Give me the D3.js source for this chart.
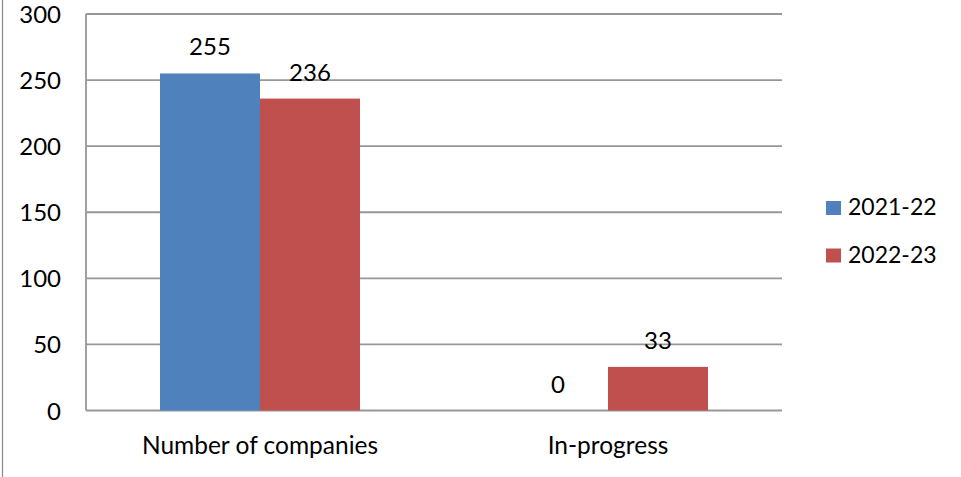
<!DOCTYPE html>
<html>
<head>
<meta charset="utf-8">
<script src="https://cdn.jsdelivr.net/npm/d3@7"></script>
<style>
  body { margin: 0; background: #fff; }
  text { font-family: Lato, "Open Sans", sans-serif; fill: #000; }
</style>
</head>
<body>
<svg width="961" height="477"></svg>
<script>
var categories = ["Number of companies", "In-progress"];
var seriesNames = ["2021-22", "2022-23"];
var values2021 = [255, 0];
var values2022 = [236, 33];
var yTicks = [0, 50, 100, 150, 200, 250, 300];
var colors = ["#4F81BD", "#C0504D"];

var rows = categories.map(function(c, i) {
  return { cat: c, vals: [values2021[i], values2022[i]] };
});

var svg = d3.select("svg");
var plotLeft = 86, plotRight = 782, plotTop = 14, plotBottom = 410.5;

// left frame edge
svg.append("line")
  .attr("x1", 2.5).attr("x2", 2.5).attr("y1", 0).attr("y2", 477)
  .attr("stroke", "#8c8c8c").attr("stroke-width", 1.2);

var y = d3.scaleLinear().domain([0, 300]).range([plotBottom, plotTop]);
var x0 = d3.scaleBand().domain(categories).range([plotLeft, plotRight]).paddingInner(0).paddingOuter(0);
var x1 = d3.scaleBand().domain([0, 1]).range([0, x0.bandwidth()]).paddingInner(0).paddingOuter(0.74);

// gridlines
svg.selectAll(".grid")
  .data(yTicks)
  .enter().append("line")
    .attr("x1", plotLeft).attr("x2", plotRight)
    .attr("y1", d => y(d)).attr("y2", d => y(d))
    .attr("stroke", "#979797").attr("stroke-width", 1.8);

svg.append("line")
  .attr("x1", plotLeft).attr("x2", plotLeft).attr("y1", plotTop).attr("y2", plotBottom)
  .attr("stroke", "#979797").attr("stroke-width", 1.8);

svg.selectAll(".ytick")
  .data(yTicks)
  .enter().append("text")
    .attr("x", 61)
    .attr("y", d => y(d) + 9)
    .attr("text-anchor", "end")
    .style("font-size", "24px")
    .text(d => d);

var groups = svg.selectAll(".grp")
  .data(rows)
  .enter().append("g")
    .attr("transform", d => "translate(" + x0(d.cat) + ",0)");

groups.selectAll("rect")
  .data(d => d.vals)
  .enter().append("rect")
    .attr("x", (d, i) => x1(i))
    .attr("width", x1.bandwidth())
    .attr("y", d => y(d))
    .attr("height", d => plotBottom - y(d))
    .attr("fill", (d, i) => colors[i]);

groups.selectAll(".lbl")
  .data(d => d.vals)
  .enter().append("text")
    .attr("x", (d, i) => x1(i) + x1.bandwidth() / 2)
    .attr("y", d => y(d) - 18)
    .attr("text-anchor", "middle")
    .style("font-size", "24px")
    .text(d => d);

svg.selectAll(".cat")
  .data(categories)
  .enter().append("text")
    .attr("x", d => x0(d) + x0.bandwidth() / 2)
    .attr("y", 454)
    .attr("text-anchor", "middle")
    .style("font-size", "24.5px")
    .text(d => d);

var legend = svg.selectAll(".leg")
  .data(seriesNames)
  .enter().append("g")
    .attr("transform", (d, i) => "translate(826," + (201 + i * 47.5) + ")");

legend.append("rect")
  .attr("width", 15).attr("height", 14)
  .attr("fill", (d, i) => colors[i]);

legend.append("text")
  .attr("x", 22).attr("y", 14)
  .style("font-size", "23px")
  .text(d => d);
</script>
</body>
</html>
